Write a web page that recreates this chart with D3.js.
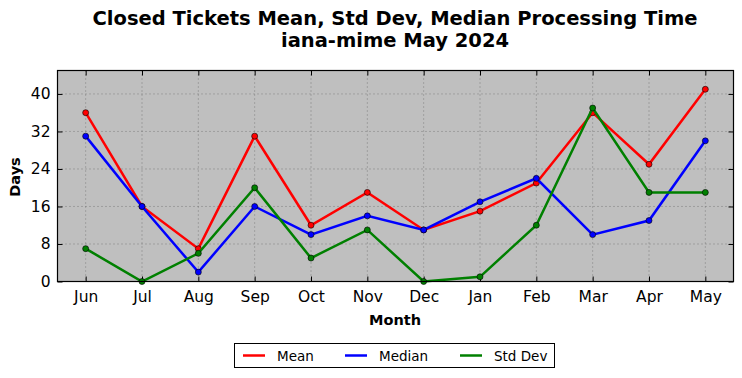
<!DOCTYPE html>
<html><head><meta charset="utf-8">
<script src="https://cdn.jsdelivr.net/npm/d3@7"></script>
<style>body{margin:0;background:#fff;font-family:"DejaVu Sans",sans-serif;}</style>
</head><body><svg id="c" width="742" height="378"></svg>
<script>
const months = ["Jun","Jul","Aug","Sep","Oct","Nov","Dec","Jan","Feb","Mar","Apr","May"];
const meanVals = [36,16,7,31,12,19,11,15,21,36,25,41];
const medianVals = [31,16,2,16,10,14,11,17,22,10,13,30];
const stdVals = [7,0,6,20,5,11,0,1,12,37,19,19];
const yTicks = [0,8,16,24,32,40];
const seriesNames = ["Mean","Median","Std Dev"];
const seriesColors = ["#ff0000","#0000ff","#008000"];

const svg = d3.select("#c");
const L=57.5, R=733.5, T=70.5, B=281.5;
const x = d3.scalePoint().domain(months).range([L,R]).padding(0.5);
const y = d3.scaleLinear().domain([0,45]).range([B,T]);

svg.append("rect").attr("x",L).attr("y",T).attr("width",R-L).attr("height",B-T).attr("fill","#bfbfbf");

// grid
const g = svg.append("g");
g.selectAll(".vg").data(months).join("line").attr("x1",d=>x(d)).attr("x2",d=>x(d)).attr("y1",T).attr("y2",B)
 .attr("stroke","#555").attr("stroke-width",0.6).attr("stroke-dasharray","1,3");
g.selectAll(".hg").data(yTicks).join("line").attr("x1",L).attr("x2",R).attr("y1",d=>y(d)).attr("y2",d=>y(d))
 .attr("stroke","#555").attr("stroke-width",0.6).attr("stroke-dasharray","1,3");

// axes
const ax = svg.append("g").attr("transform",`translate(0,${B})`)
 .call(d3.axisBottom(x).tickSizeInner(-5).tickSizeOuter(0).tickPadding(9));
const axT = svg.append("g").attr("transform",`translate(0,${T})`)
 .call(d3.axisTop(x).tickSizeInner(-5).tickSizeOuter(0).tickFormat(""));
const ay = svg.append("g").attr("transform",`translate(${L},0)`)
 .call(d3.axisLeft(y).tickValues(yTicks).tickSizeInner(-5).tickSizeOuter(0).tickPadding(7));
const ayR = svg.append("g").attr("transform",`translate(${R},0)`)
 .call(d3.axisRight(y).tickValues(yTicks).tickSizeInner(-5).tickSizeOuter(0).tickFormat(""));
[ax,axT,ay,ayR].forEach(a=>{a.select(".domain").remove();a.selectAll("line").attr("stroke","#000");
 a.selectAll("text").attr("font-family","DejaVu Sans").attr("font-size",15.5).attr("fill","#000");});

const data = [meanVals, medianVals, stdVals];
const line = d3.line().x((d,i)=>x(months[i])).y(d=>y(d));
data.forEach((vals,k)=>{
  svg.append("path").datum(vals).attr("d",line).attr("fill","none").attr("stroke",seriesColors[k]).attr("stroke-width",2.5);
  svg.append("g").selectAll("circle").data(vals).join("circle").attr("cx",(d,i)=>x(months[i])).attr("cy",d=>y(d))
    .attr("r",3).attr("fill",seriesColors[k]).attr("stroke","#000").attr("stroke-width",0.6);
});

svg.append("rect").attr("x",L).attr("y",T).attr("width",R-L).attr("height",B-T).attr("fill","none").attr("stroke","#000").attr("stroke-width",1.2);

// titles
svg.append("text").attr("x",395).attr("y",25).attr("text-anchor","middle").attr("font-weight","bold").attr("font-size",19.5).text("Closed Tickets Mean, Std Dev, Median Processing Time");
svg.append("text").attr("x",395).attr("y",47).attr("text-anchor","middle").attr("font-weight","bold").attr("font-size",19.5).text("iana-mime May 2024");
svg.append("text").attr("x",395).attr("y",325).attr("text-anchor","middle").attr("font-weight","bold").attr("font-size",14.5).text("Month");
svg.append("text").attr("transform","translate(20,177) rotate(-90)").attr("text-anchor","middle").attr("font-weight","bold").attr("font-size",14.5).text("Days");

// legend
const lg = svg.append("g");
lg.append("rect").attr("x",234.5).attr("y",343.5).attr("width",320).attr("height",24).attr("fill","#fff").attr("stroke","#000").attr("stroke-width",1);
const lx = [243, 345, 460];
seriesNames.forEach((n,k)=>{
  lg.append("line").attr("x1",lx[k]).attr("x2",lx[k]+22).attr("y1",355.5).attr("y2",355.5).attr("stroke",seriesColors[k]).attr("stroke-width",2.5);
  lg.append("text").attr("x",lx[k]+34).attr("y",360.5).attr("font-size",13.5).text(n);
});
</script></body></html>
